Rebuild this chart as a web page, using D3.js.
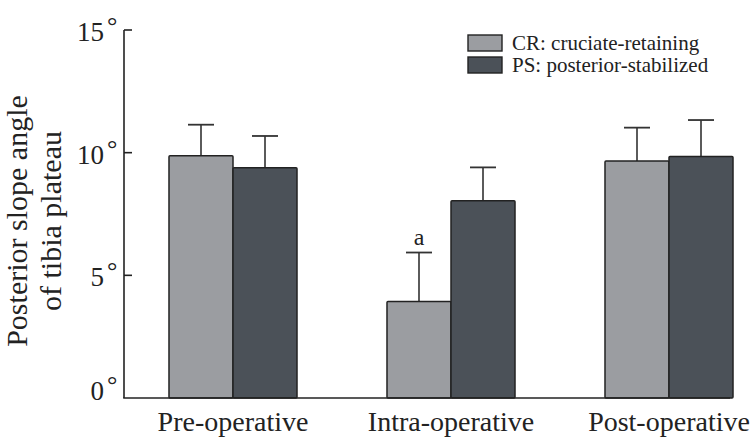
<!DOCTYPE html>
<html><head><meta charset="utf-8">
<script src="https://cdn.jsdelivr.net/npm/d3@7"></script>
<style>body{margin:0;background:#fff}svg{display:block}text{font-family:"Liberation Serif","DejaVu Serif",serif;fill:#222}</style>
</head><body><svg id="c" width="756" height="438"></svg>
<script>
const categories = ["Pre-operative", "Intra-operative", "Post-operative"];
const series = ["CR", "PS"];
const seriesLabels = ["CR: cruciate-retaining", "PS: posterior-stabilized"];
const crValues = [9.87, 3.93, 9.66];
const psValues = [9.39, 8.04, 9.84];
const crErrors = [1.27, 2.0, 1.36];
const psErrors = [1.29, 1.36, 1.49];
const marks = ["", "a", ""];
const yTicks = [0, 5, 10, 15];

const colors = {CR: "#9b9da1", PS: "#4b5158"};
const svg = d3.select("#c");
const axisX = 124, baseY = 398, topY = 30, rightX = 730;

const y = d3.scaleLinear().domain([0, 15]).range([baseY, topY]);
const x0 = d3.scaleBand().domain(categories).range([124, 778]).padding(0);
const x1 = d3.scaleBand().domain(series).range([0, x0.bandwidth()]).paddingInner(0).paddingOuter(0.703);

const data = categories.map((c, i) => ({
  cat: c, mark: marks[i],
  vals: [{s: "CR", v: crValues[i], e: crErrors[i]}, {s: "PS", v: psValues[i], e: psErrors[i]}]
}));

const g = svg.selectAll("g.grp").data(data).join("g").attr("class", "grp")
  .attr("transform", d => `translate(${x0(d.cat)},0)`);

// error bars
g.each(function(d) {
  const gg = d3.select(this);
  d.vals.forEach(b => {
    const cx = x1(b.s) + x1.bandwidth() / 2;
    gg.append("line").attr("x1", cx).attr("x2", cx).attr("y1", y(b.v)).attr("y2", y(b.v + b.e))
      .attr("stroke", "#333").attr("stroke-width", 1.6);
    gg.append("line").attr("x1", cx - 13).attr("x2", cx + 13).attr("y1", y(b.v + b.e)).attr("y2", y(b.v + b.e))
      .attr("stroke", "#333").attr("stroke-width", 1.8);
  });
});

g.selectAll("rect").data(d => d.vals).join("rect")
  .attr("x", b => x1(b.s)).attr("width", x1.bandwidth())
  .attr("y", b => y(b.v)).attr("height", b => y(0) - y(b.v))
  .attr("fill", b => colors[b.s]).attr("stroke", "#222").attr("stroke-width", 1.5).attr("rx", 1);

g.each(function(d) {
  if (!d.mark) return;
  const b = d.vals[0];
  d3.select(this).append("text").attr("x", x1(b.s) + x1.bandwidth() / 2).attr("y", y(b.v + b.e) - 8)
    .attr("text-anchor", "middle").attr("font-size", 24).text(d.mark);
});

// axes
svg.append("line").attr("x1", axisX).attr("x2", axisX).attr("y1", topY).attr("y2", baseY)
  .attr("stroke", "#222").attr("stroke-width", 1.6);
svg.append("line").attr("x1", axisX - 0.8).attr("x2", rightX).attr("y1", baseY).attr("y2", baseY)
  .attr("stroke", "#222").attr("stroke-width", 1.6);

const yt = svg.selectAll("g.yt").data(yTicks).join("g").attr("class", "yt")
  .attr("transform", d => `translate(0,${y(d) + (d === 0 ? -9 : 0)})`);
yt.filter(d => d > 0).append("line").attr("x1", axisX).attr("x2", axisX + 8).attr("stroke", "#222").attr("stroke-width", 1.6);
yt.append("text").attr("x", 104).attr("y", 11).attr("text-anchor", "end").attr("font-size", 27).text(d => d);
yt.append("text").attr("x", 107).attr("y", 4).attr("font-size", 26).text("°");

// x labels
svg.selectAll("text.xl").data(categories).join("text").attr("class", "xl")
  .attr("x", d => x0(d) + x0.bandwidth() / 2).attr("y", 431).attr("text-anchor", "middle")
  .attr("font-size", 28).text(d => d);

// y title
const yt2 = svg.append("text").attr("transform", "translate(0,221) rotate(-90)").attr("text-anchor", "middle").attr("font-size", 30);
yt2.append("tspan").attr("x", 0).attr("y", 27).text("Posterior slope angle");
yt2.append("tspan").attr("x", 0).attr("y", 61).text("of tibia plateau");

// legend
const lg = svg.selectAll("g.lg").data(series).join("g").attr("class", "lg")
  .attr("transform", (d, i) => `translate(468,${35 + i * 22})`);
lg.append("rect").attr("width", 34).attr("height", 16).attr("fill", d => colors[d]).attr("stroke", "#222").attr("stroke-width", 1.4);
lg.append("text").attr("x", 44).attr("y", 15).attr("font-size", 21).text((d, i) => seriesLabels[i]);
</script></body></html>
